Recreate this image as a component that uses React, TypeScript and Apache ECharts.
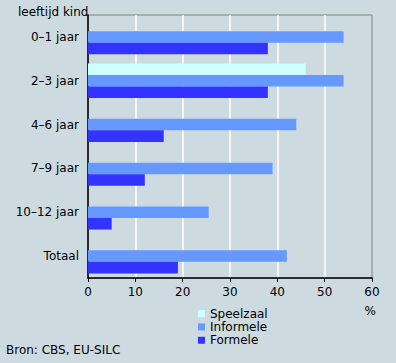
import React, { useEffect, useRef } from "react";
import * as echarts from "echarts";

const categories = ["0–1 jaar", "2–3 jaar", "4–6 jaar", "7–9 jaar", "10–12 jaar", "Totaal"];
const speelzaal = [null, 46, null, null, null, null];
const informele = [54, 54, 44, 39, 25.5, 42];
const formele = [38, 38, 16, 12, 5, 19];
const xTicks = [0, 10, 20, 30, 40, 50, 60];

const FONT = "DejaVu Sans";
const FS = 12;

export default function App() {
  const ref = useRef<HTMLDivElement>(null);
  useEffect(() => {
    document.body.style.margin = "0";
    const chart = echarts.init(ref.current!, null, { renderer: "svg" });
    chart.setOption({
      animation: false,
      backgroundColor: "#cddbe0",
      textStyle: { fontFamily: FONT, fontSize: FS, color: "#000" },
      grid: {
        left: 88,
        right: 24,
        top: 15,
        bottom: 85,
        show: true,
        borderColor: "#808080",
        borderWidth: 1,
        backgroundColor: "transparent",
      },
      title: [
        { text: "leeftijd kind", left: 13, top: 1, textStyle: { fontFamily: FONT, fontSize: FS, fontWeight: "normal", color: "#000" } },
        { text: "Bron: CBS, EU-SILC", left: 1, top: 339, textStyle: { fontFamily: FONT, fontSize: FS, fontWeight: "normal", color: "#000" } },
      ],
      legend: {
        orient: "vertical",
        left: 193,
        top: 302,
        itemWidth: 7,
        itemHeight: 7,
        itemGap: 0,
        icon: "rect",
        textStyle: { fontFamily: FONT, fontSize: FS, color: "#000", lineHeight: 13.3 },
        data: ["Speelzaal", "Informele", "Formele"],
      },
      graphic: [
        { type: "text", right: 20, top: 305, style: { text: "%", font: `${FS}px ${FONT}`, fill: "#000" } },
      ],
      xAxis: {
        type: "value",
        min: 0,
        max: 60,
        interval: 10,
        axisLine: { show: true, lineStyle: { color: "#000", width: 1.5 } },
        axisTick: { show: true, length: 4, lineStyle: { color: "#000" } },
        axisLabel: {
          fontFamily: FONT,
          fontSize: FS,
          color: "#000",
          margin: 8,
          formatter: (v: number) => (xTicks.includes(v) ? String(v) : ""),
        },
        splitLine: { show: true, showMinLine: false, showMaxLine: false, lineStyle: { color: "#ffffff", width: 1.5 } },
      },
      yAxis: {
        type: "category",
        data: categories,
        inverse: true,
        axisLine: { show: true, lineStyle: { color: "#000", width: 1.5 } },
        axisTick: { show: false },
        axisLabel: { fontFamily: FONT, fontSize: FS, color: "#000", margin: 9 },
        splitLine: { show: false },
      },
      series: [
        { name: "Speelzaal", type: "bar", data: speelzaal, itemStyle: { color: "#ccffff" }, barGap: 0, barCategoryGap: "21%" },
        { name: "Informele", type: "bar", data: informele, itemStyle: { color: "#6699ff" }, barGap: 0, barCategoryGap: "21%" },
        { name: "Formele", type: "bar", data: formele, itemStyle: { color: "#3333ff" }, barGap: 0, barCategoryGap: "21%" },
      ],
    });
    return () => chart.dispose();
  }, []);
  return <div ref={ref} style={{ width: 396, height: 363 }} />;
}
